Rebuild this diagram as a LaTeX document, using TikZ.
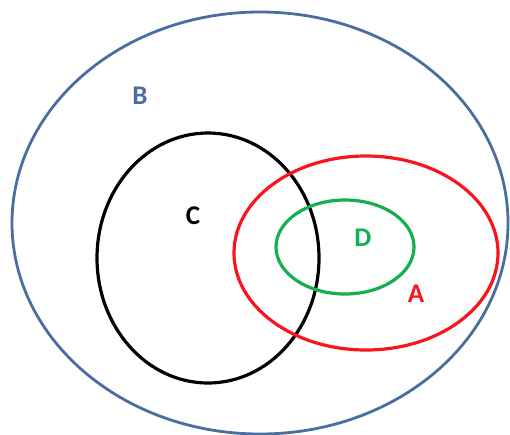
\documentclass[tikz,border=0pt]{standalone}
\usepackage{fontspec}
\setmainfont{Carlito}
\definecolor{setblue}{RGB}{74,110,160}
\definecolor{setred}{RGB}{250,20,30}
\definecolor{setgreen}{RGB}{20,175,80}
\begin{document}
\begin{tikzpicture}[x=1pt,y=-1pt,
  setline/.style={line width=3.2pt},
  setlabel/.style={font=\fontsize{27}{31}\selectfont\bfseries, inner sep=0pt}]
\useasboundingbox (0,0) rectangle (510,434);
\fill[white] (0,0) rectangle (510,434);
\draw[setline, setblue, line width=2.8pt] (260,223) ellipse [x radius=248, y radius=211];
\draw[setline, black] (208,258) ellipse [x radius=111, y radius=125];
\draw[setline, setred] (366,253) ellipse [x radius=132, y radius=97];
\draw[setline, setgreen] (345,247) ellipse [x radius=69, y radius=47];
\node[setlabel, text=setblue] (lb) at (140,96) {B};
\node[setlabel, text=black] (lc) at (193,216) {C};
\node[setlabel, text=setgreen] (ld) at (363,238) {D};
\node[setlabel, text=setred] (la) at (416,294) {A};
\end{tikzpicture}
\end{document}
